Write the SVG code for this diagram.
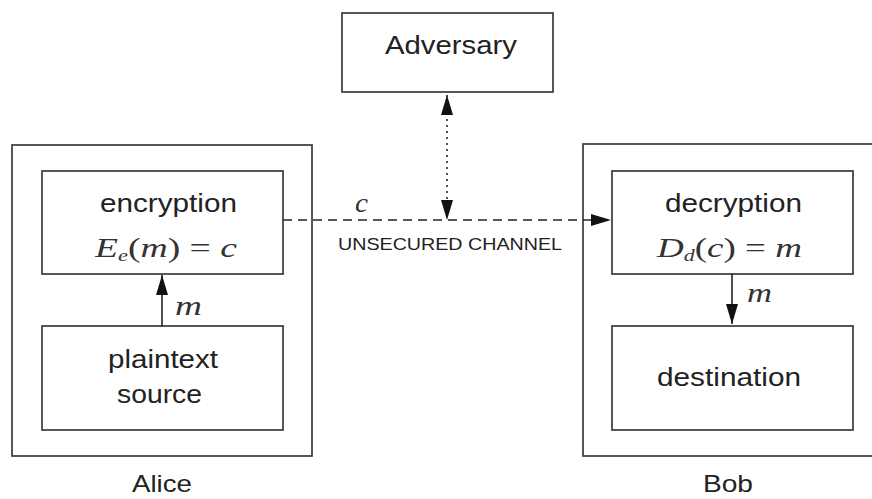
<svg xmlns="http://www.w3.org/2000/svg" width="872" height="499" viewBox="0 0 872 499">
<defs>
<style>
.box{fill:none;stroke:#3a3a3a;stroke-width:1.7}
.lbl{font-family:"Liberation Sans",Arial,sans-serif;fill:#222;font-size:26px}
.math{font-family:"Liberation Serif","Times New Roman",serif;fill:#333;font-size:27px;font-style:italic}
.up{font-style:normal}
.sub{font-size:16px}
.ln{fill:none;stroke:#222;stroke-width:1.6}
</style>
<marker id="ah" markerUnits="userSpaceOnUse" markerWidth="20" markerHeight="12" refX="20" refY="6" orient="auto-start-reverse" viewBox="0 0 20 12">
<path d="M0,0 L20,6 L0,12 Z" fill="#111"/>
</marker>
</defs>
<rect width="872" height="499" fill="#fff"/>

<g id="alice">
<rect class="box" x="12" y="145" width="300" height="311"/>
<text class="lbl" x="132" y="492" style="font-size:24px" textLength="60" lengthAdjust="spacingAndGlyphs">Alice</text>
</g>
<g id="encryption">
<rect class="box" x="42" y="171" width="241" height="103"/>
<text class="lbl" x="100" y="212" textLength="137" lengthAdjust="spacingAndGlyphs">encryption</text>
<text class="math" x="95" y="257" textLength="142" lengthAdjust="spacingAndGlyphs">E<tspan class="sub" dy="4">e</tspan><tspan class="up" dy="-4">(</tspan>m<tspan class="up">) = </tspan>c</text>
</g>
<g id="plaintext">
<rect class="box" x="42" y="326" width="241" height="104"/>
<text class="lbl" x="108" y="368" textLength="110" lengthAdjust="spacingAndGlyphs">plaintext</text>
<text class="lbl" x="117" y="403" textLength="85" lengthAdjust="spacingAndGlyphs">source</text>
</g>
<g id="adversary">
<rect class="box" x="342" y="13" width="211" height="79"/>
<text class="lbl" x="385" y="54" textLength="132" lengthAdjust="spacingAndGlyphs">Adversary</text>
</g>
<g id="bob">
<rect class="box" x="583" y="144" width="300" height="312"/>
<text class="lbl" x="703" y="492" style="font-size:24px" textLength="50" lengthAdjust="spacingAndGlyphs">Bob</text>
</g>
<g id="decryption">
<rect class="box" x="612" y="171" width="241" height="103"/>
<text class="lbl" x="665" y="212" textLength="137" lengthAdjust="spacingAndGlyphs">decryption</text>
<text class="math" x="657" y="257" textLength="145" lengthAdjust="spacingAndGlyphs">D<tspan class="sub" dy="4">d</tspan><tspan class="up" dy="-4">(</tspan>c<tspan class="up">) = </tspan>m</text>
</g>
<g id="destination">
<rect class="box" x="612" y="326" width="241" height="104"/>
<text class="lbl" x="657" y="386" textLength="144" lengthAdjust="spacingAndGlyphs">destination</text>
</g>

<g id="connectors">
<line class="ln" x1="162" y1="326" x2="162" y2="275" marker-end="url(#ah)"/>
<text class="math" x="175" y="315" textLength="27" lengthAdjust="spacingAndGlyphs">m</text>
<line class="ln" x1="732" y1="274" x2="732" y2="324" marker-end="url(#ah)"/>
<text class="math" x="747" y="302" textLength="25" lengthAdjust="spacingAndGlyphs">m</text>
<line class="ln" x1="283" y1="220" x2="611" y2="220" stroke-dasharray="9 6" marker-end="url(#ah)"/>
<text class="math" x="355" y="212" textLength="13" lengthAdjust="spacingAndGlyphs">c</text>
<text class="lbl" x="338" y="250" style="font-size:17px" textLength="224" lengthAdjust="spacingAndGlyphs">UNSECURED CHANNEL</text>
<line class="ln" x1="447" y1="95" x2="447" y2="220" stroke-dasharray="2 4" marker-start="url(#ah)" marker-end="url(#ah)"/>
</g>
</svg>
